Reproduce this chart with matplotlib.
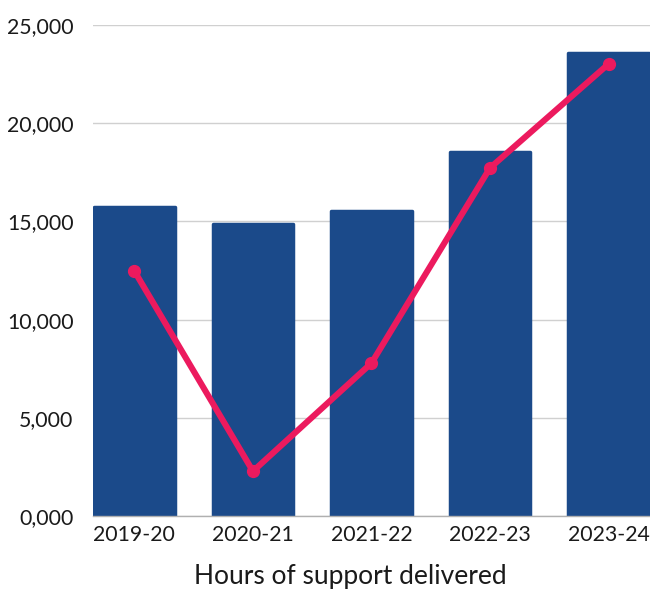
import matplotlib
matplotlib.use('Agg')
import matplotlib.pyplot as plt

# Data
years = ['2019-20', '2020-21', '2021-22', '2022-23', '2023-24']
bar_values = [15750, 14870, 15530, 18530, 23570]
line_values = [12470, 2290, 7790, 17720, 23010]
y_ticks = [0, 5000, 10000, 15000, 20000, 25000]
y_tick_labels = ['0,000', '5,000', '10,000', '15,000', '20,000', '25,000']

bar_color = '#1b4a8a'
line_color = '#ec1a5e'

plt.rcParams['font.family'] = ['Lato', 'DejaVu Sans']

fig = plt.figure(figsize=(6.5, 5.92), dpi=100)
ax = fig.add_axes([0.143, 0.128, 0.857, 0.83])

x = range(len(years))
ax.bar(x, bar_values, width=0.68, color=bar_color, edgecolor=bar_color,
       linewidth=2.5, joinstyle='round', zorder=2)
ax.plot(x, line_values, color=line_color, linewidth=4.4, marker='o',
        markersize=8.5, solid_capstyle='round', zorder=3)

ax.set_xlim(-0.35, 4.35)
ax.set_ylim(0, 25000)
ax.set_yticks(y_ticks)
ax.set_yticklabels(y_tick_labels)
ax.set_xticks(list(x))
ax.set_xticklabels(years)
ax.tick_params(axis='both', length=0, labelsize=15.3, colors='#1a1a1a')
ax.tick_params(axis='y', pad=14)
ax.tick_params(axis='x', pad=6)

ax.grid(axis='y', color='#d0d0d0', linewidth=1, zorder=0)
ax.set_axisbelow(True)
for side in ['top', 'right', 'left']:
    ax.spines[side].set_visible(False)
ax.spines['bottom'].set_color('#b0b0b0')
ax.spines['bottom'].set_linewidth(1)

ax.set_xlabel('Hours of support delivered', fontsize=19, color='#1a1a1a')
ax.xaxis.set_label_coords(0.462, -0.097)

fig.savefig('out.png', dpi=100)
